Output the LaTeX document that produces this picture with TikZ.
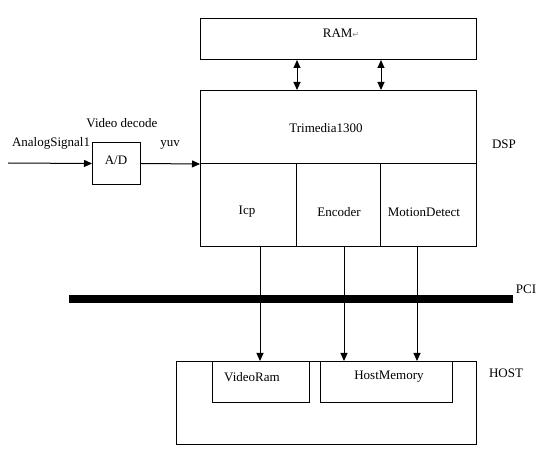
\documentclass[tikz,border=0pt]{standalone}
\usepackage{fontspec}
\setmainfont{Liberation Serif}
\newfontfamily\symfont{DejaVu Sans}
\usetikzlibrary{arrows.meta}
\begin{document}
\begin{tikzpicture}[x=1pt,y=-1pt,
  box/.style={draw,line width=1pt,inner sep=0pt,anchor=north west},
  lbl/.style={inner sep=0pt,font=\fontsize{13}{15}\selectfont},
  arr/.style={line width=1pt,-{Triangle[length=8pt,width=7pt]}},
  darr/.style={line width=1pt,{Triangle[length=8pt,width=7pt]}-{Triangle[length=8pt,width=7pt]}}]
\useasboundingbox (0,0) rectangle (558,449);
% RAM
\node[box,minimum width=276pt,minimum height=41pt] (ram) at (200,18) {};
\node[lbl] (ramt) at (341,33) {RAM{\color{gray}\symfont\fontsize{8}{9}\selectfont ↵}};
% DSP
\node[box,minimum width=276pt,minimum height=73pt] (trim) at (200,90) {};
\node[lbl] (trimt) at (326,128) {Trimedia1300};
\node[box,minimum width=96pt,minimum height=83pt] (icp) at (200,163) {};
\node[box,minimum width=84pt,minimum height=83pt] (enc) at (296,163) {};
\node[box,minimum width=96pt,minimum height=83pt] (mot) at (380,163) {};
\node[lbl] (icpt) at (247,212) {Icp};
\node[lbl] (enct) at (339,212) {Encoder};
\node[lbl] (mott) at (424,212) {MotionDetect};
\node[lbl] (dspt) at (504,144) {DSP};
% RAM <-> Trimedia
\draw[darr] (ram.south -| icp.east) -- (trim.north -| icp.east);
\draw[darr] (ram.south -| enc.east) -- (trim.north -| enc.east);
% A/D
\node[box,minimum width=48pt,minimum height=42pt] (ad) at (92,142) {};
\node[lbl] (adt) at (116,160) {A/D};
\coordinate (in) at (8,163);
\draw[arr] (in) -- (ad.west);
\draw[arr] (ad.east) -- (trim.south west);
\node[lbl] (ant) at (51,143) {AnalogSignal1};
\node[lbl] (vdt) at (122,123) {Video decode};
\node[lbl] (yuvt) at (170,145) {yuv};
% PCI bus
\node[box,fill=black,draw=none,minimum width=444pt,minimum height=8pt] (pci) at (68,295) {};
\node[lbl] (pcit) at (526,289) {PCI};
% HOST
\node[box,minimum width=300pt,minimum height=83pt] (host) at (176,361) {};
\node[box,minimum width=97pt,minimum height=41pt] (vram) at (212,361) {};
\node[box,minimum width=132pt,minimum height=41pt] (hmem) at (320,361) {};
\node[lbl] (vramt) at (252,377) {VideoRam};
\node[lbl] (hmemt) at (389,377) {HostMemory};
\node[lbl] (hostt) at (506,373) {HOST};
% down arrows
\draw[arr] (icp.south -| 260,0) -- (host.north -| 260,0);
\draw[arr] (enc.south -| 344,0) -- (host.north -| 344,0);
\draw[arr] (mot.south -| 417,0) -- (host.north -| 417,0);
\end{tikzpicture}
\end{document}
